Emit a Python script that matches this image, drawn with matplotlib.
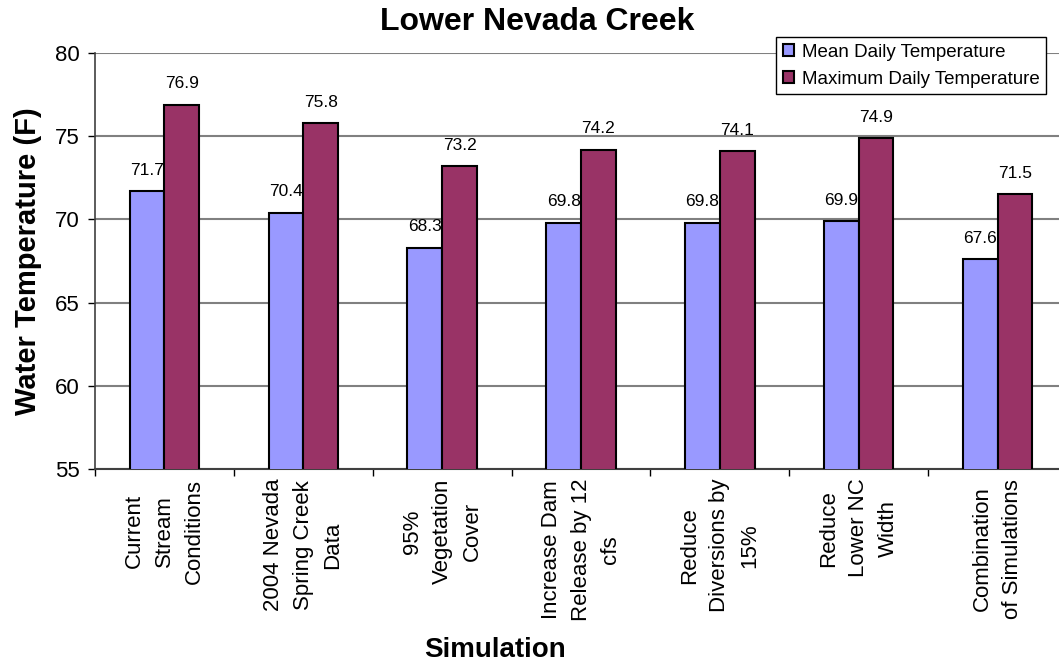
import matplotlib.pyplot as plt
import numpy as np

plt.rcParams['font.family'] = ['Liberation Sans', 'DejaVu Sans']

# Data
simulations = ['Current\nStream\nConditions', '2004 Nevada\nSpring Creek\nData',
               '95%\nVegetation\nCover', 'Increase Dam\nRelease by 12\ncfs',
               'Reduce\nDiversions by\n15%', 'Reduce\nLower NC\nWidth',
               'Combination\nof Simulations']
mean_temp = [71.7, 70.4, 68.3, 69.8, 69.8, 69.9, 67.6]
max_temp = [76.9, 75.8, 73.2, 74.2, 74.1, 74.9, 71.5]

W, H = 1059, 663
fig = plt.figure(figsize=(W / 100, H / 100), dpi=100)
ax = fig.add_axes([95 / W, 1 - 469 / H, (1067 - 95) / W, (469 - 53) / H])

x = np.arange(len(simulations))
bw = 0.25
b1 = ax.bar(x - bw / 2, mean_temp, bw, color='#9999FF', edgecolor='black', linewidth=1.5,
            label='Mean Daily Temperature', zorder=3)
b2 = ax.bar(x + bw / 2, max_temp, bw, color='#993366', edgecolor='black', linewidth=1.5,
            label='Maximum Daily Temperature', zorder=3)

for bars in (b1, b2):
    for r in bars:
        ax.annotate(f'{r.get_height():.1f}', (r.get_x() + r.get_width() / 2, r.get_height()),
                    xytext=(0, 15), textcoords='offset points', ha='center', va='center',
                    fontsize=12.5, zorder=4)

ax.set_ylim(55, 80)
ax.set_xlim(-0.5, len(simulations) - 0.5)
ax.set_yticks(range(55, 81, 5))
ax.tick_params(axis='y', labelsize=16, length=5, width=1, direction='out', pad=6)
ax.set_xticks(x)
ax.set_xticklabels(simulations, rotation=90, ha='center', va='top', multialignment='center',
                   fontsize=16, linespacing=1.55)
ax.tick_params(axis='x', length=0, pad=7)
ax.set_xticks(np.arange(-0.5, len(simulations), 1), minor=True)
ax.tick_params(axis='x', which='minor', length=5, width=1, direction='out')

ax.grid(axis='y', color='#808080', linewidth=1.5, zorder=0)
for s in ('top', 'right'):
    ax.spines[s].set_visible(False)
ax.spines['left'].set_color('#404040')
ax.spines['bottom'].set_color('#404040')
ax.spines['left'].set_linewidth(1.2)
ax.spines['bottom'].set_linewidth(1.5)

ax.set_ylabel('Water Temperature (F)', fontsize=21, fontweight='bold', labelpad=9)
fig.text(495 / W, 1 - 650 / H, 'Simulation', fontsize=20, fontweight='bold',
         ha='center', va='center')
fig.text(537 / W, 1 - 22 / H, 'Lower Nevada Creek', fontsize=23, fontweight='bold',
         ha='center', va='center')

leg = fig.legend(loc='upper right', bbox_to_anchor=(1046 / W, 1 - 37 / H), fontsize=13.5,
                 frameon=True, fancybox=False, edgecolor='black', framealpha=1,
                 handlelength=0.6, handleheight=0.6, handletextpad=0.4,
                 borderpad=0.35, labelspacing=0.55, borderaxespad=0)
leg.get_frame().set_linewidth(1)

fig.savefig('out.png', dpi=100)
